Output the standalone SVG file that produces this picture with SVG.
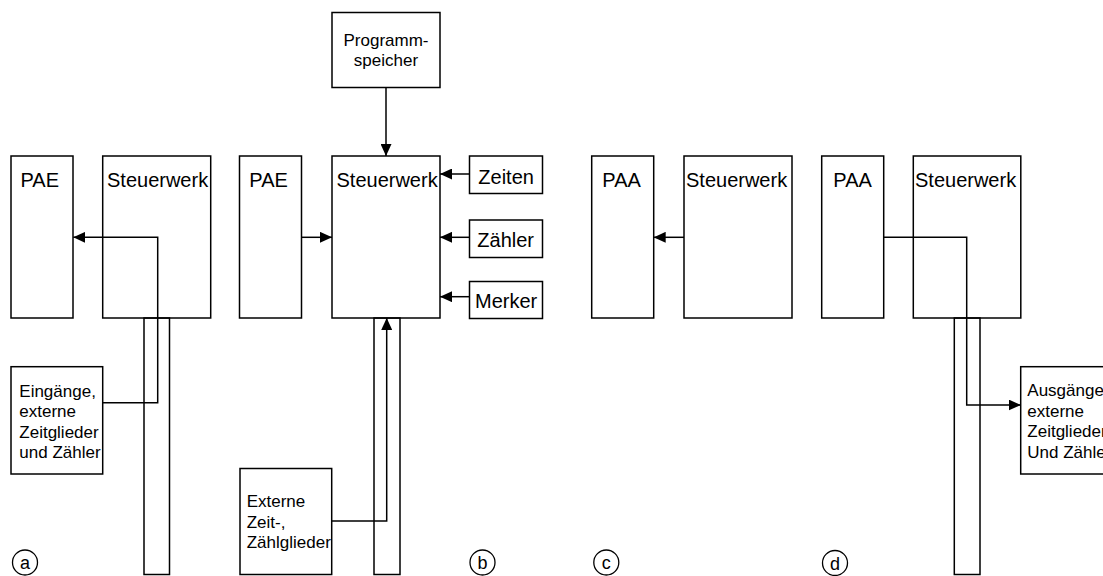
<svg xmlns="http://www.w3.org/2000/svg" width="1103" height="576" viewBox="0 0 1103 576">
<style>
.box{fill:#fff;stroke:#000;stroke-width:1.5}
.col{fill:none;stroke:#000;stroke-width:1.5}
.big{font-family:"Liberation Sans",Arial,sans-serif;font-size:20px;fill:#000}
.sm{font-family:"Liberation Sans",Arial,sans-serif;font-size:17px;fill:#000}
.lbl{font-family:"Liberation Sans",Arial,sans-serif;font-size:18px;fill:#000;text-anchor:middle}
.ring{fill:none;stroke:#000;stroke-width:1.3}
.con{fill:none;stroke:#000;stroke-width:1.5;marker-end:url(#ah)}
</style>
<defs>
<marker id="ah" viewBox="0 0 12 11" refX="12" refY="5.5" markerWidth="12" markerHeight="11" markerUnits="userSpaceOnUse" orient="auto">
<path d="M0,0 L12,5.5 L0,11 z" fill="#000"/>
</marker>
</defs>
<rect width="1103" height="576" fill="#fff"/>

<!-- Panel a -->
<g id="a-pae"><rect class="box" x="11" y="156" width="62" height="162"/><text class="big" x="20.5" y="186.5">PAE</text></g>
<g id="a-steuerwerk"><rect class="box" x="102.7" y="156" width="108" height="162"/><text class="big" x="107" y="186.5">Steuerwerk</text></g>
<g id="a-bus"><rect class="col" x="144" y="318" width="25.5" height="256.5"/></g>
<g id="a-eingaenge"><rect class="box" x="11" y="366.7" width="91.7" height="107.3"/>
<text class="sm" x="19.3"><tspan x="19.3" y="396.5">Eingänge,</tspan><tspan x="19.3" y="417">externe</tspan><tspan x="19.3" y="437.5">Zeitglieder</tspan><tspan x="19.3" y="458">und Zähler</tspan></text></g>
<g id="a-label"><circle class="ring" cx="25" cy="562.5" r="12.5"/><text class="lbl" x="25" y="569">a</text></g>

<!-- Panel b -->
<g id="b-programmspeicher"><rect class="box" x="332" y="12.5" width="108" height="75"/>
<text class="sm" text-anchor="middle"><tspan x="386" y="46">Programm-</tspan><tspan x="386" y="65.5">speicher</tspan></text></g>
<g id="b-pae"><rect class="box" x="239.5" y="156" width="62" height="162"/><text class="big" x="249.3" y="186.5">PAE</text></g>
<g id="b-steuerwerk"><rect class="box" x="332" y="156" width="108" height="162"/><text class="big" x="336.5" y="186.5">Steuerwerk</text></g>
<g id="b-zeiten"><rect class="box" x="469.5" y="156" width="73" height="37.5"/><text class="big" x="478.3" y="184.3">Zeiten</text></g>
<g id="b-zaehler"><rect class="box" x="469.5" y="220" width="73" height="37.5"/><text class="big" x="477.3" y="246.7">Zähler</text></g>
<g id="b-merker"><rect class="box" x="469.5" y="281.5" width="73" height="37"/><text class="big" x="475" y="308.3">Merker</text></g>
<g id="b-bus"><rect class="col" x="374" y="318" width="26" height="256.5"/></g>
<g id="b-extern"><rect class="box" x="240" y="468.5" width="91.7" height="106"/>
<text class="sm"><tspan x="246.7" y="507">Externe</tspan><tspan x="246.7" y="527.5">Zeit-,</tspan><tspan x="246.7" y="548">Zählglieder</tspan></text></g>
<g id="b-label"><circle class="ring" cx="482.5" cy="562.5" r="12.5"/><text class="lbl" x="482.5" y="569">b</text></g>

<!-- Panel c -->
<g id="c-paa"><rect class="box" x="591.7" y="156" width="62" height="162"/><text class="big" x="602.3" y="186.5">PAA</text></g>
<g id="c-steuerwerk"><rect class="box" x="684" y="156" width="108" height="162"/><text class="big" x="686" y="186.5">Steuerwerk</text></g>
<g id="c-label"><circle class="ring" cx="606.3" cy="562.5" r="12.5"/><text class="lbl" x="606.3" y="569">c</text></g>

<!-- Panel d -->
<g id="d-paa"><rect class="box" x="821.7" y="156" width="62" height="162"/><text class="big" x="833.3" y="186.5">PAA</text></g>
<g id="d-steuerwerk"><rect class="box" x="913.3" y="156" width="107.5" height="162"/><text class="big" x="915" y="186.5">Steuerwerk</text></g>
<g id="d-bus"><rect class="col" x="954.3" y="318" width="25.7" height="256.5"/></g>
<g id="d-ausgaenge"><rect class="box" x="1020.7" y="366.7" width="100" height="107.3"/>
<text class="sm"><tspan x="1027.3" y="396">Ausgänge,</tspan><tspan x="1027.3" y="416.5">externe</tspan><tspan x="1027.3" y="437">Zeitglieder</tspan><tspan x="1027.3" y="457.5">Und Zähler</tspan></text></g>
<g id="d-label"><circle class="ring" cx="835" cy="563" r="12.5"/><text class="lbl" x="835" y="569.5">d</text></g>

<!-- Connectors -->
<g id="connectors">
<path class="con" d="M102.7,402.7 H157.7 V237.3 H73.3"/>
<path class="con" d="M386,87.3 V156"/>
<path class="con" d="M301.5,237.3 H332"/>
<path class="con" d="M469.5,174 H440"/>
<path class="con" d="M469.5,237.3 H440"/>
<path class="con" d="M469.5,296.7 H440"/>
<path class="con" d="M331.7,521 H386.7 V318"/>
<path class="con" d="M684,237.3 H653.7"/>
<path class="con" d="M883.3,237.3 H966.7 V405 H1020.7"/>
</g>
</svg>
